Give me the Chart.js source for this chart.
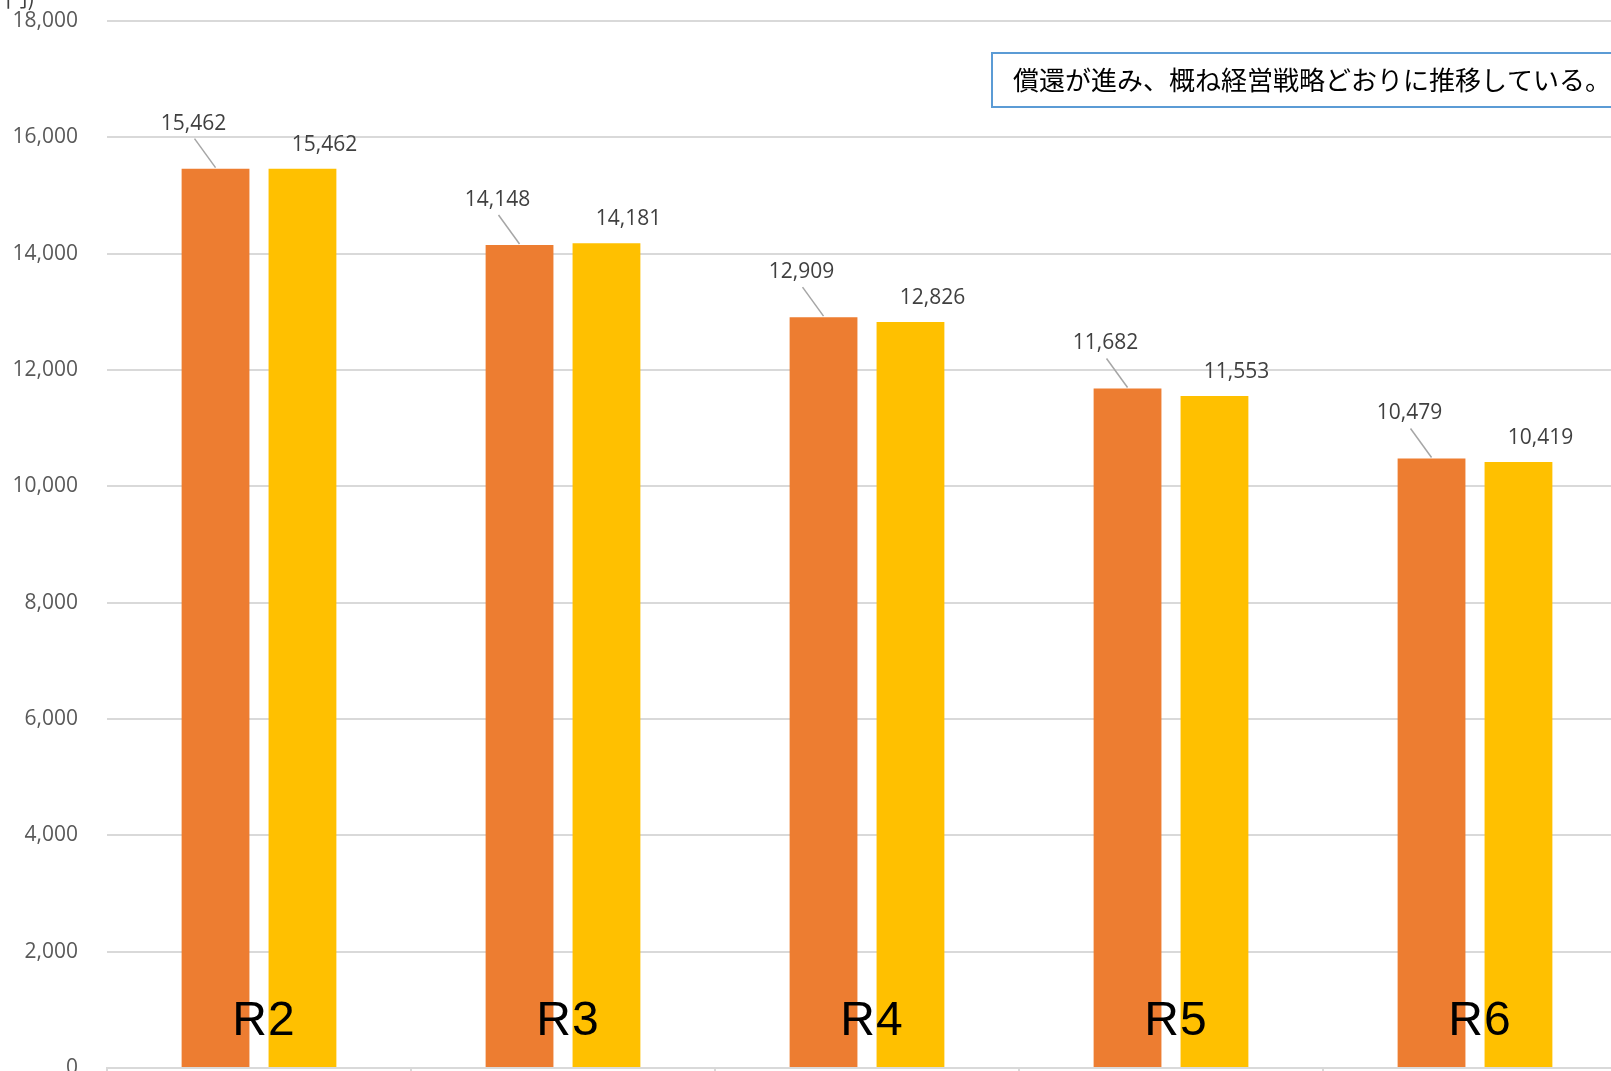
<!DOCTYPE html>
<html lang="ja">
<head>
    <meta charset="UTF-8">
    <title>企業債残高</title>
    <script src="https://cdn.jsdelivr.net/npm/chart.js@4.4.1/dist/chart.umd.min.js"></script>
    <style>
        html, body {
            margin: 0;
            padding: 0;
            background: #ffffff;
            overflow: hidden;
        }
        .chart-box {
            position: relative;
            width: 1640px;
            height: 1071px;
        }
    </style>
</head>
<body>
    <div class="chart-box">
        <canvas id="debtChart"></canvas>
    </div>

    <script>
        const categories = ['R2', 'R3', 'R4', 'R5', 'R6'];
        const planValues = [15462, 14148, 12909, 11682, 10479];
        const actualValues = [15462, 14181, 12826, 11553, 10419];
        const yMax = 18000;
        const yStep = 2000;
        const unitLabel = '(千円)';
        const noteText = '償還が進み、概ね経営戦略どおりに推移している。';

        const numFont = '"Open Sans", "Noto Sans", sans-serif';
        const fmt = v => Number(v).toLocaleString('en-US');

        // 値ラベル・引き出し線・年度ラベル・コメント枠
        const overlayPlugin = {
            id: 'overlay',
            afterDatasetsDraw(chart) {
                const ctx = chart.ctx;
                const area = chart.chartArea;
                ctx.save();
                ctx.font = '21px ' + numFont;
                ctx.fillStyle = '#404040';
                ctx.textAlign = 'center';
                ctx.textBaseline = 'middle';

                chart.getDatasetMeta(0).data.forEach((bar, i) => {
                    const lx = bar.x - 22, ly = bar.y - 45;
                    ctx.strokeStyle = '#a6a6a6';
                    ctx.lineWidth = 1.5;
                    ctx.beginPath();
                    ctx.moveTo(lx + 1, ly + 15);
                    ctx.lineTo(bar.x, bar.y - 1);
                    ctx.stroke();
                    ctx.fillText(fmt(planValues[i]), lx, ly);
                });
                chart.getDatasetMeta(1).data.forEach((bar, i) => {
                    ctx.fillText(fmt(actualValues[i]), bar.x + 22, bar.y - 24);
                });

                // 年度ラベル (棒の上に重ねて表示)
                const xScale = chart.scales.x;
                ctx.font = '48px "Liberation Sans", Arial, sans-serif';
                ctx.letterSpacing = '1px';
                ctx.fillStyle = '#000000';
                ctx.textBaseline = 'alphabetic';
                categories.forEach((c, i) => {
                    ctx.fillText(c, xScale.getPixelForValue(i) + 5, area.bottom - 33);
                });
                ctx.restore();
            },
            afterDraw(chart) {
                const ctx = chart.ctx;
                ctx.save();
                // 単位
                ctx.font = '22px "Noto Sans CJK JP", sans-serif';
                ctx.fillStyle = '#404040';
                ctx.textAlign = 'right';
                ctx.textBaseline = 'alphabetic';
                ctx.fillText(unitLabel, 35, 6);

                // コメント枠
                const bx = 992, by = 53, bh = 54;
                ctx.fillStyle = '#ffffff';
                ctx.fillRect(bx, by, chart.width - bx + 10, bh);
                ctx.strokeStyle = '#5b9bd5';
                ctx.lineWidth = 2;
                ctx.strokeRect(bx, by, chart.width - bx + 10, bh);
                ctx.font = '26px "Noto Sans CJK JP", sans-serif';
                ctx.fillStyle = '#000000';
                ctx.textAlign = 'left';
                ctx.textBaseline = 'middle';
                ctx.fillText(noteText, 1013, by + bh / 2);
                ctx.restore();
            }
        };

        new Chart(document.getElementById('debtChart'), {
            type: 'bar',
            data: {
                labels: categories,
                datasets: [{
                    label: '経営戦略',
                    data: planValues,
                    backgroundColor: '#ED7D31',
                    categoryPercentage: 0.572,
                    barPercentage: 0.78
                }, {
                    label: '実績',
                    data: actualValues,
                    backgroundColor: '#FFC000',
                    categoryPercentage: 0.572,
                    barPercentage: 0.78
                }]
            },
            options: {
                responsive: true,
                maintainAspectRatio: false,
                animation: false,
                layout: {
                    padding: { top: 21, right: 13, bottom: 0, left: 0 }
                },
                plugins: {
                    legend: { display: false },
                    tooltip: { enabled: false }
                },
                scales: {
                    x: {
                        grid: {
                            offset: true,
                            drawOnChartArea: false,
                            tickLength: 8,
                            color: '#d9d9d9',
                            lineWidth: 2
                        },
                        border: { color: '#d9d9d9', width: 2 },
                        ticks: { display: false },
                        afterFit: s => { s.height = 3; }
                    },
                    y: {
                        min: 0,
                        max: yMax,
                        ticks: {
                            stepSize: yStep,
                            padding: 29,
                            color: '#595959',
                            font: { family: numFont, size: 21 },
                            callback: v => fmt(v)
                        },
                        grid: {
                            color: '#d9d9d9',
                            lineWidth: 2,
                            drawTicks: false
                        },
                        border: { display: false },
                        afterFit: s => {
                            s.width = 107;
                            s.paddingTop = 0;
                            s.paddingBottom = 0;
                        }
                    }
                }
            },
            plugins: [overlayPlugin]
        });
    </script>
</body>
</html>
